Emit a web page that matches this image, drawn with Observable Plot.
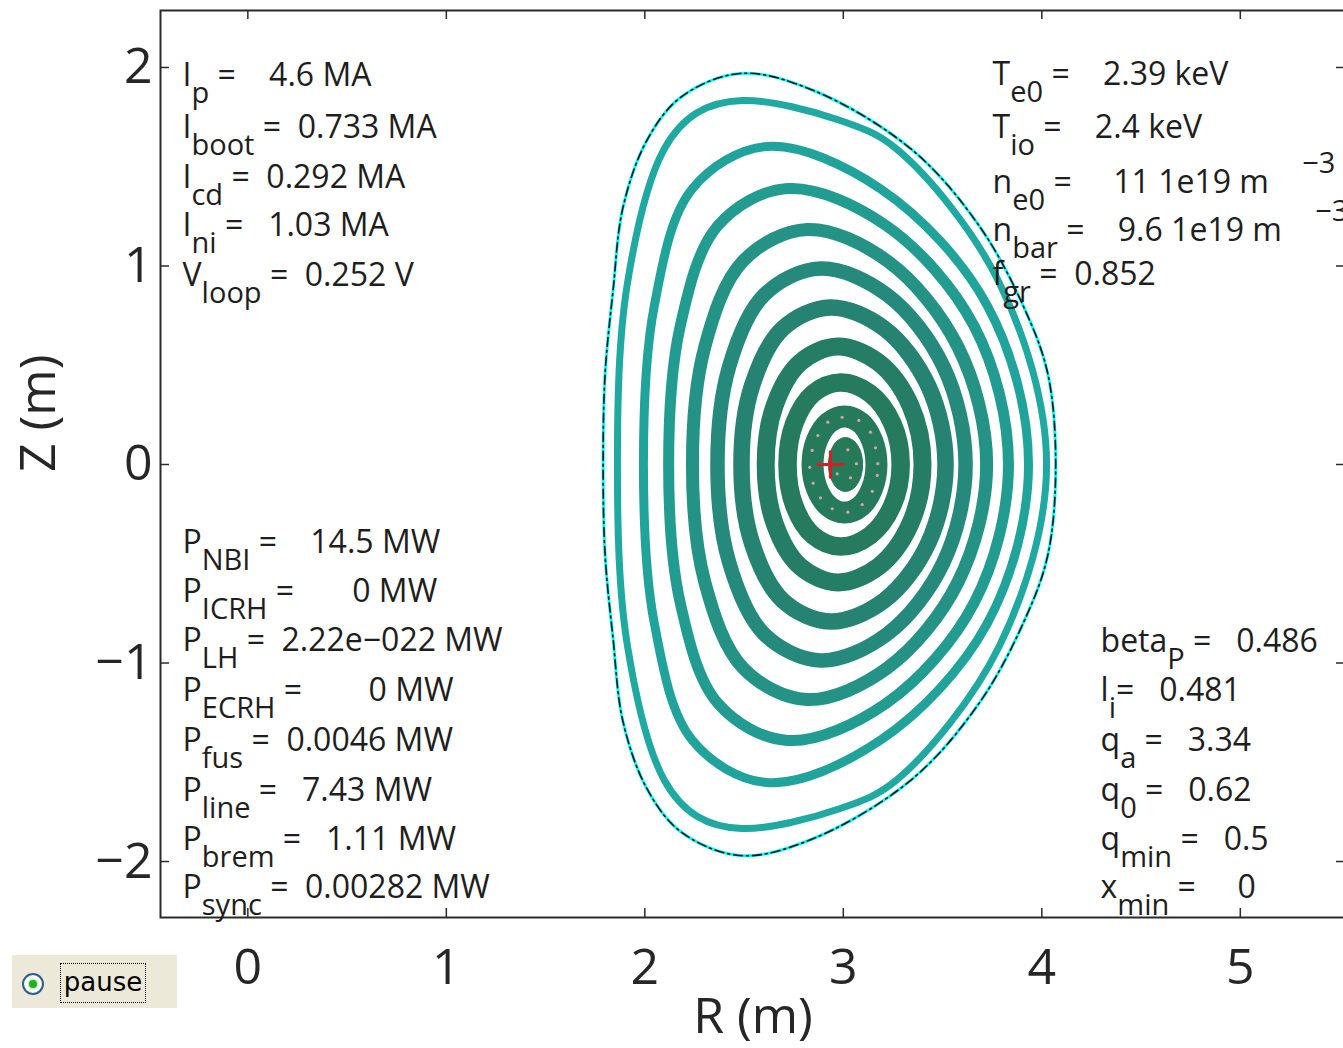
<!DOCTYPE html>
<html>
<head>
<meta charset="utf-8">
<style>
html, body { margin: 0; padding: 0; overflow: hidden; background: #fff; width: 1343px; height: 1048px; }
#chart { position: absolute; left: 0; top: 0; }
#pause { position: absolute; left: 12px; top: 955px; width: 165px; height: 53px; background: #ece9d8; }
#pause .radio { position: absolute; left: 10px; top: 18px; width: 22px; height: 22px; border-radius: 50%;
  border: 2px solid #2f5f8f; box-sizing: border-box; background: radial-gradient(circle, #ffffff 55%, #d6e2ee 100%); }
#pause .dot { position: absolute; left: 5px; top: 5px; width: 8px; height: 8px; border-radius: 50%;
  background: #1db31d; box-shadow: 0 0 0 1.5px #c4ebc4; }
#pause .lbl { position: absolute; left: 48px; top: 8px; width: 86px; height: 40px; border: 1px dotted #000;
  box-sizing: border-box; font: 26px "DejaVu Sans", sans-serif; line-height: 36px; text-align: center; color: #000; }
</style>
<script src="https://cdn.jsdelivr.net/npm/d3@7"></script>
<script src="https://cdn.jsdelivr.net/npm/@observablehq/plot@0.6"></script>
</head>
<body>
<div id="chart"></div>
<div id="pause"><span class="radio"><span class="dot"></span></span><span class="lbl">pause</span></div>
<script>
// ---------------- DATA (metres) ----------------
const xTicks = [0, 1, 2, 3, 4, 5];
const yTicks = [-2, -1, 0, 1, 2];

// Last closed flux surface (full contour)
const lcfsR = [4.07, 4.03, 3.91, 3.69, 3.35, 2.85, 2.48, 2.18, 2.01, 1.89, 1.84, 1.80, 1.79,
               1.80, 1.84, 1.89, 2.01, 2.18, 2.48, 2.85, 3.35, 3.69, 3.91, 4.03];
const lcfsZ = [0, 0.458, 0.791, 1.194, 1.582, 1.884, 1.970, 1.849, 1.632, 1.295, 0.877, 0.458, 0,
               -0.458, -0.877, -1.295, -1.632, -1.849, -1.970, -1.884, -1.582, -1.194, -0.791, -0.458];

// Nested flux surfaces: upper half (outboard midplane -> top -> inboard midplane), up-down symmetric
const s1R = [4.024, 3.785, 3.27, 2.985, 2.49, 2.263, 2.097, 1.913, 1.862];
const s1Z = [0, 0.917, 1.588, 1.733, 1.834, 1.772, 1.588, 0.917, 0];
const s2R = [3.933, 3.725, 3.19, 2.614, 2.238, 2.048, 1.993];
const s2Z = [0, 0.801, 1.387, 1.602, 1.387, 0.801, 0];
const s3R = [3.832, 3.660, 3.215, 2.719, 2.369, 2.178, 2.120];
const s3Z = [0, 0.695, 1.204, 1.390, 1.204, 0.695, 0];
const s4R = [3.722, 3.578, 3.222, 2.818, 2.495, 2.302, 2.240];
const s4Z = [0, 0.592, 1.025, 1.184, 1.025, 0.592, 0];
const s5R = [3.616, 3.504, 3.220, 2.885, 2.602, 2.425, 2.366];
const s5Z = [0, 0.494, 0.855, 0.987, 0.855, 0.494, 0];
const s6R = [3.515, 3.428, 3.206, 2.934, 2.695, 2.540, 2.487];
const s6Z = [0, 0.396, 0.685, 0.791, 0.685, 0.396, 0];
const s7R = [3.399, 3.338, 3.177, 2.972, 2.783, 2.654, 2.609];
const s7Z = [0, 0.297, 0.514, 0.594, 0.514, 0.297, 0];
const s8R = [3.289, 3.247, 3.134, 2.987, 2.849, 2.753, 2.719];
const s8Z = [0, 0.207, 0.358, 0.413, 0.358, 0.207, 0];
const s9R = [3.167, 3.145, 3.087, 3.006, 2.926, 2.867, 2.845];
const s9Z = [0, 0.121, 0.210, 0.242, 0.210, 0.121, 0];
const coreR = [3.097, 3.086, 3.054, 3.011, 2.968, 2.937, 2.925];
const coreZ = [0, 0.068, 0.118, 0.136, 0.118, 0.068, 0];

// small markers on the inner surface
const dotsR = [2.922, 2.994, 3.078, 3.137, 3.162, 3.174, 3.171, 3.146, 3.095, 3.023, 2.944, 2.885, 2.848, 2.831, 2.843, 2.872,
               3.023, 3.066, 3.036, 2.969];
const dotsZ = [0.213, 0.238, 0.222, 0.163, 0.084, 0.004, -0.055, -0.135, -0.202, -0.240, -0.223, -0.168, -0.094, -0.014, 0.071, 0.146,
               0.074, 0.004, -0.067, -0.047];
// magnetic axis
const axisR = [2.935];
const axisZ = [0];

// annotation texts
const tlLabels = ["I_{p} =    4.6 MA", "I_{boot} =  0.733 MA", "I_{cd} =  0.292 MA", "I_{ni} =   1.03 MA", "V_{loop} =  0.252 V"];
const trLabels = ["T_{e0} =    2.39 keV", "T_{io} =    2.4 keV", "n_{e0} =     11 1e19 m    ^{−3}",
                  "n_{bar} =    9.6 1e19 m    ^{−3}", "f_{gr} =  0.852"];
const blLabels = ["P_{NBI} =    14.5 MW", "P_{ICRH} =       0 MW", "P_{LH} =  2.22e−022 MW", "P_{ECRH} =        0 MW",
                  "P_{fus} =  0.0046 MW", "P_{line} =   7.43 MW", "P_{brem} =   1.11 MW", "P_{sync} =  0.00282 MW"];
const brLabels = ["beta_{P} =   0.486", "l_{i}=   0.481", "q_{a} =   3.34", "q_{0} =   0.62", "q_{min} =   0.5", "x_{min} =     0"];

// ---------------- LAYOUT / STYLE ----------------
const W = 1343, H = 1048;
const mL = 160, mT = 10, mB = 131, mR = -2;
const innerW = W - mL - mR, innerH = H - mT - mB;
const xDomain = [-0.44, 5.53], yDomain = [-2.282, 2.287];
const ringWidths = [7, 9, 11, 13, 14.5, 16.5, 18, 18.5, 22];
const ringColors = ["#1fa9a1", "#20a39a", "#229b90", "#249386", "#258a7b", "#268271", "#267d66", "#267b5f", "#267a5c"];
const coreColor = "#267a5a";
const textColor = "#1e1e1e";
const FS = 32, SUB_FS = 29, SUB_DY = 17, SUP_DY = -20;
// annotation anchors (data units: R for left edge, Z for baselines)
const tlAnchorR = -0.329, trAnchorR = 3.752, blAnchorR = -0.329, brAnchorR = 4.296;
const tlRowZ = [1.909, 1.647, 1.395, 1.149, 0.897];
const trRowZ = [1.914, 1.647, 1.370, 1.128, 0.902];
const blRowZ = [-0.448, -0.695, -0.942, -1.189, -1.441, -1.693, -1.940, -2.186];
const brRowZ = [-0.947, -1.189, -1.441, -1.693, -1.940, -2.186];

// ---------------- BUILD ----------------
function closedSurface(Rs, Zs) {
  const pts = Rs.map((r, i) => ({R: r, Z: Zs[i]}));
  for (let i = Rs.length - 2; i >= 1; i--) pts.push({R: Rs[i], Z: -Zs[i]});
  return pts;
}
const surfaces = [[s1R, s1Z], [s2R, s2Z], [s3R, s3Z], [s4R, s4Z], [s5R, s5Z], [s6R, s6Z], [s7R, s7Z], [s8R, s8Z], [s9R, s9Z]]
  .map(([r, z]) => closedSurface(r, z));
const core = closedSurface(coreR, coreZ);
const lcfs = lcfsR.map((r, i) => ({R: r, Z: lcfsZ[i]}));

function block(labels, anchorR, rowZ) {
  return Plot.text(labels, {
    x: () => anchorR, y: (d, i) => rowZ[i], text: d => d,
    textAnchor: "start", lineAnchor: "bottom", fontSize: FS, fill: textColor
  });
}

const marks = [];
surfaces.forEach((pts, i) => {
  marks.push(Plot.line(pts, {x: "R", y: "Z", curve: "catmull-rom-closed", stroke: ringColors[i], strokeWidth: ringWidths[i]}));
});
marks.push(Plot.line(core, {x: "R", y: "Z", curve: "catmull-rom-closed", fill: coreColor, stroke: coreColor, strokeWidth: 1}));
marks.push(Plot.dot(dotsR, {x: d => d, y: (d, i) => dotsZ[i], r: 1.6, fill: "#d7a3aa", stroke: null}));
marks.push(Plot.dot(axisR, {x: d => d, y: (d, i) => axisZ[i], symbol: "plus", r: 9, stroke: "#d42020", strokeWidth: 3}));
marks.push(Plot.line(lcfs, {x: "R", y: "Z", curve: "catmull-rom-closed", stroke: "#00ffff", strokeWidth: 3}));
marks.push(Plot.line(lcfs, {x: "R", y: "Z", curve: "catmull-rom-closed", stroke: "#111", strokeWidth: 1.6, strokeDasharray: "9,4,2,4"}));
// inward ticks on all four sides
marks.push(Plot.tickX(xTicks, {x: d => d, insetTop: innerH - 9, stroke: "#2a2a2a", strokeWidth: 1.5}));
marks.push(Plot.tickX(xTicks, {x: d => d, insetBottom: innerH - 9, stroke: "#2a2a2a", strokeWidth: 1.5}));
marks.push(Plot.tickY(yTicks, {y: d => d, insetRight: innerW - 9, stroke: "#2a2a2a", strokeWidth: 1.5}));
marks.push(Plot.tickY(yTicks, {y: d => d, insetLeft: innerW - 9, stroke: "#2a2a2a", strokeWidth: 1.5}));
marks.push(Plot.frame({stroke: "#2a2a2a", strokeWidth: 2}));
marks.push(Plot.axisX(xTicks, {anchor: "bottom", tickSize: 0, tickPadding: 31, fontSize: 50, label: null, tickFormat: "d", fill: "#262626"}));
marks.push(Plot.axisY(yTicks, {anchor: "left", tickSize: 0, tickPadding: 8, fontSize: 50, label: null, tickFormat: "d", fill: "#262626"}));
marks.push(Plot.text(["R (m)"], {frameAnchor: "bottom", dy: 99, text: d => d, fontSize: 50, lineAnchor: "middle", fill: "#262626"}));
marks.push(Plot.text(["Z (m)"], {frameAnchor: "left", dx: -122, dy: 8, rotate: -90, text: d => d, fontSize: 50, lineAnchor: "middle", fill: "#262626"}));
marks.push(block(tlLabels, tlAnchorR, tlRowZ));
marks.push(block(trLabels, trAnchorR, trRowZ));
marks.push(block(blLabels, blAnchorR, blRowZ));
marks.push(block(brLabels, brAnchorR, brRowZ));

const svg = Plot.plot({
  width: W, height: H,
  marginLeft: mL, marginTop: mT, marginBottom: mB, marginRight: mR,
  x: {domain: xDomain},
  y: {domain: yDomain},
  style: {fontFamily: "'Open Sans', 'Noto Sans', sans-serif", background: "white", color: "#262626", maxWidth: "none"},
  marks
});

// sub/superscripts (TeX-like "_{..}" and "^{..}")
const NS = "http://www.w3.org/2000/svg";
svg.querySelectorAll("text").forEach((t) => {
  const s = t.textContent;
  if (!/[_^]\{/.test(s)) return;
  while (t.firstChild) t.removeChild(t.firstChild);
  t.setAttribute("xml:space", "preserve");
  t.style.whiteSpace = "pre";
  const re = /([_^])\{([^}]*)\}/g;
  let last = 0, cur = 0, m;
  const add = (str, off, fs) => {
    if (!str) return;
    const ts = document.createElementNS(NS, "tspan");
    ts.textContent = str;
    if (off !== cur) ts.setAttribute("dy", off - cur);
    cur = off;
    if (fs) ts.setAttribute("font-size", fs);
    t.appendChild(ts);
  };
  while ((m = re.exec(s))) {
    add(s.slice(last, m.index), 0, null);
    add(m[2], m[1] === "_" ? SUB_DY : SUP_DY, SUB_FS);
    last = re.lastIndex;
  }
  add(s.slice(last), 0, null);
});

document.getElementById("chart").appendChild(svg);
</script>
</body>
</html>
